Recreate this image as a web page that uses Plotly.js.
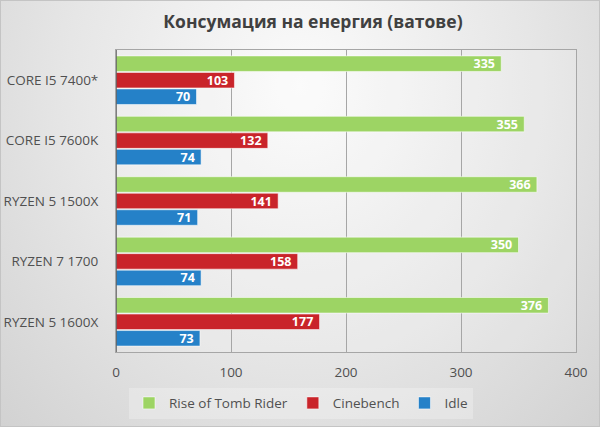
<!DOCTYPE html>
<html>
<head>
<meta charset="utf-8">
<script src="https://cdn.plot.ly/plotly-3.0.1.min.js"></script>
<style>
  html, body { margin: 0; padding: 0; }
  #chart {
    width: 600px; height: 427px; box-sizing: border-box;
    border: 1px solid #c4c4c4;
    background: radial-gradient(ellipse at 50% 20%, #fbfbfb 0%, #e6e6e6 55%, #d2d2d2 100%);
  }
</style>
</head>
<body>
<div id="chart"></div>
<script>
// data
const cpus = ['CORE I5 7400*', 'CORE I5 7600K', 'RYZEN 5 1500X', 'RYZEN 7 1700', 'RYZEN 5 1600X'];
const tombRider = [335, 355, 366, 350, 376];
const cinebench = [103, 132, 141, 158, 177];
const idle = [70, 74, 71, 74, 73];
const xTicks = [0, 100, 200, 300, 400];

const labelFont = { family: 'Open Sans, sans-serif', size: 12.5, color: '#ffffff', weight: 'bold' };

function series(name, values, color) {
    return {
        type: 'bar',
        orientation: 'h',
        name: name,
        y: cpus,
        x: values,
        text: values.map(v => v + ' '),
        textposition: 'inside',
        insidetextanchor: 'end',
        constraintext: 'none',
        textangle: 0,
        textfont: labelFont,
        marker: { color: color, line: { color: 'rgba(255,255,255,0.55)', width: 1 } },
        hoverinfo: 'x+name'
    };
}

const data = [
    series('Rise of Tomb Rider', tombRider, '#9dd464'),
    series('Cinebench', cinebench, '#c9242a'),
    series('Idle', idle, '#2581c8')
];

const layout = {
    width: 600,
    height: 427,
    margin: { l: 115, r: 25, t: 49, b: 76 },
    paper_bgcolor: 'rgba(0,0,0,0)',
    plot_bgcolor: 'rgba(255,255,255,0.15)',
    barmode: 'group',
    bargap: 0.18,
    bargroupgap: 0.06,
    title: {
        text: 'Консумация на енергия (ватове)',
        font: { family: 'Open Sans, sans-serif', size: 17.5, color: '#404040', weight: 'bold' },
        xref: 'container', x: 0.52, xanchor: 'center', y: 0.95, yanchor: 'middle'
    },
    xaxis: {
        range: [0, 400],
        tickvals: xTicks,
        showgrid: true,
        gridcolor: '#a6a6a6',
        gridwidth: 1,
        zeroline: false,
        showline: true,
        mirror: true,
        linecolor: '#a6a6a6',
        ticks: '',
        ticklabelstandoff: 8,
        tickfont: { family: 'Open Sans, sans-serif', size: 13.5, color: '#505050' }
    },
    yaxis: {
        autorange: 'reversed',
        showline: true,
        mirror: true,
        linecolor: '#a6a6a6',
        showgrid: false,
        ticks: '',
        ticklabelstandoff: 14,
        tickfont: { family: 'Open Sans, sans-serif', size: 13.5, color: '#505050' }
    },
    shapes: [{
        type: 'line', xref: 'x', yref: 'paper',
        x0: 0, x1: 0, y0: 0, y1: 1,
        line: { color: '#595959', width: 1.5 }
    }],
    showlegend: true,
    legend: {
        orientation: 'h',
        xref: 'container', yref: 'container',
        x: 0.5, xanchor: 'center',
        y: 0.022, yanchor: 'bottom',
        bgcolor: 'rgba(255,255,255,0.25)',
        traceorder: 'normal',
        font: { family: 'Open Sans, sans-serif', size: 13.5, color: '#505050' },
        itemwidth: 30
    }
};

Plotly.newPlot('chart', data, layout, { displayModeBar: false });
</script>
</body>
</html>
